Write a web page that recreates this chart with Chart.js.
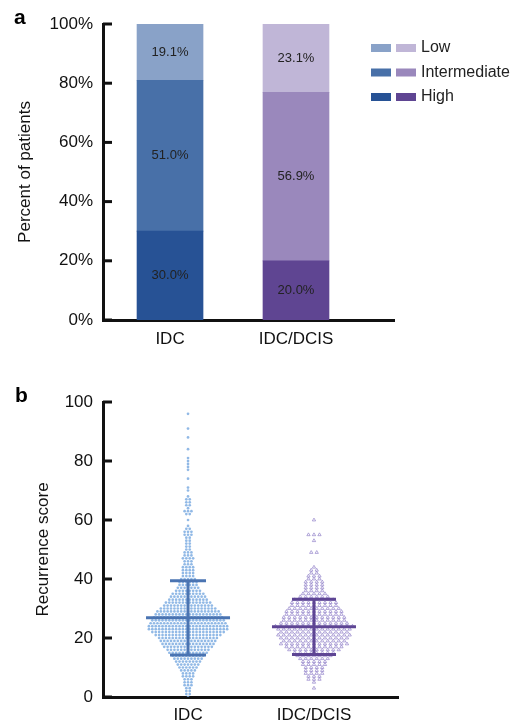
<!DOCTYPE html>
<html>
<head>
<meta charset="utf-8">
<script src="https://cdn.jsdelivr.net/npm/chart.js@4.4.1/dist/chart.umd.min.js"></script>
<style>
  body { margin: 0; background: #fff; width: 516px; height: 724px; overflow: hidden; position: relative; }
  canvas { position: absolute; left: 0; }
  #chartA { top: 0; }
  #chartB { top: 370px; }
</style>
</head>
<body>
<canvas id="chartA" width="516" height="360"></canvas>
<canvas id="chartB" width="516" height="354"></canvas>
<script>
// ---- Data ----
const categories = ["IDC", "IDC/DCIS"];
const riskLevels = ["Low", "Intermediate", "High"];

// panel a: percent of patients by risk group
const highPct = [30.0, 20.0];
const intermediatePct = [51.0, 56.9];
const lowPct = [19.1, 23.1];
const pctTicks = [0, 20, 40, 60, 80, 100];

// panel b: number of patients at each recurrence score
const idcStartScore = 0;
const idcCounts = [
  1, 2, 2, 2, 3, 3, 3, 4, 4, 5,         // 0-9
  6, 7, 8, 9, 10, 12, 13, 15, 16, 17,   // 10-19
  18, 20, 22, 24, 24, 23, 22, 21, 20, 19, // 20-29
  17, 15, 14, 12, 11, 10, 8, 7, 6, 6,   // 30-39
  5, 4, 4, 4, 4, 3, 3, 4, 3, 3,         // 40-49
  2, 2, 2, 2, 2, 3, 3, 2, 1, 0,         // 50-59
  1, 0, 2, 3, 1, 2, 2, 2, 1, 0,         // 60-69
  1, 1, 0, 0, 1, 0, 0, 1, 1, 1,         // 70-79
  1, 1, 0, 0, 1, 0, 0, 0, 1, 0,         // 80-89
  0, 1, 0, 0, 0, 0, 1                   // 90-96
];
const dcisStartScore = 3;
const dcisCounts = [
  1, 0, 1, 3, 3, 4, 4, 4,               // 3-10
  5, 5, 6, 7, 8, 10, 11, 13, 12, 13,    // 11-20
  14, 13, 14, 15, 13, 12, 12, 11, 11, 10, // 21-30
  9, 9, 8, 6, 5, 4, 4, 4, 4, 3,         // 31-40
  3, 2, 2, 1, 0, 0, 0, 0, 2, 0,         // 41-50
  0, 0, 1, 0, 3, 0, 0, 0, 0, 1          // 51-60
];
const meanScore = [26.9, 23.8];
const sdLow = [14.2, 14.4];
const sdHigh = [39.4, 33.1];
const scoreTicks = [0, 20, 40, 60, 80, 100];

// ---- Styles ----
const idcColors = { Low: "#89a2c8", Intermediate: "#4870a8", High: "#275295" };
const dcisColors = { Low: "#c0b6d7", Intermediate: "#9a88bc", High: "#5f4592" };
const errColors = ["#4a74b2", "#5e4594"];
const ink = "#111";

Chart.defaults.font.family = '"Liberation Sans", Arial, Helvetica, sans-serif';
Chart.defaults.color = ink;

// inward tick marks on the y axis
const innerTicks = {
  id: "innerTicks",
  afterDraw(chart) {
    const { ctx, chartArea, scales: { y } } = chart;
    ctx.save();
    ctx.strokeStyle = ink;
    ctx.lineWidth = 3;
    y.ticks.forEach(t => {
      const py = y.getPixelForValue(t.value);
      ctx.beginPath();
      ctx.moveTo(chartArea.left, py);
      ctx.lineTo(chartArea.left + 9, py);
      ctx.stroke();
    });
    ctx.restore();
  }
};

function panelLetter(letter, x, y) {
  return {
    id: "letter" + letter,
    afterDraw(chart) {
      const ctx = chart.ctx;
      ctx.save();
      ctx.font = 'bold 21px "Liberation Sans", Arial, sans-serif';
      ctx.fillStyle = "#000";
      ctx.textBaseline = "alphabetic";
      ctx.fillText(letter, x, y);
      ctx.restore();
    }
  };
}

function onlyCategoryTicks(scale) {
  scale.ticks = scale.ticks.filter(t => Number.isInteger(t.value));
}

// ---- Panel a ----
const barLabels = {
  id: "barLabels",
  afterDatasetsDraw(chart) {
    const ctx = chart.ctx;
    ctx.save();
    ctx.font = '13px "Liberation Sans", Arial, sans-serif';
    ctx.fillStyle = "#222";
    ctx.textAlign = "center";
    ctx.textBaseline = "middle";
    chart.data.datasets.forEach((ds, di) => {
      chart.getDatasetMeta(di).data.forEach((el, i) => {
        ctx.fillText(ds.data[i].y.toFixed(1) + "%", el.x, (el.y + el.base) / 2);
      });
    });
    ctx.restore();
  }
};

const riskLegend = {
  id: "riskLegend",
  afterDraw(chart) {
    const ctx = chart.ctx;
    ctx.save();
    ctx.font = '16px "Liberation Sans", Arial, sans-serif';
    ctx.textBaseline = "middle";
    riskLevels.forEach((lvl, i) => {
      const cy = 48 + i * 24.5;
      ctx.fillStyle = idcColors[lvl];
      ctx.fillRect(371, cy - 4, 20, 8);
      ctx.fillStyle = dcisColors[lvl];
      ctx.fillRect(396, cy - 4, 20, 8);
      ctx.fillStyle = "#222";
      ctx.fillText(lvl, 421, cy);
    });
    ctx.restore();
  }
};

function barSet(label, values) {
  return {
    label: label,
    data: categories.map((c, i) => ({ x: i, y: values[i] })),
    backgroundColor: [idcColors[label], dcisColors[label]],
    barThickness: 66,
    borderWidth: 0
  };
}

new Chart(document.getElementById("chartA"), {
  type: "bar",
  data: {
    datasets: [
      barSet("High", highPct),
      barSet("Intermediate", intermediatePct),
      barSet("Low", lowPct)
    ]
  },
  options: {
    responsive: false,
    animation: false,
    layout: { padding: { top: 24, right: 122, left: 0, bottom: 0 } },
    plugins: { legend: { display: false }, tooltip: { enabled: false } },
    scales: {
      x: {
        type: "linear",
        offset: false,
        min: -0.532,
        max: 1.778,
        stacked: true,
        afterBuildTicks: onlyCategoryTicks,
        afterFit: s => { s.height = 40; },
        grid: { display: false, drawTicks: false },
        border: { display: true, width: 3, color: ink },
        ticks: { padding: 9, font: { size: 17 }, callback: v => categories[v] ?? "" }
      },
      y: {
        min: 0,
        max: 100,
        stacked: true,
        afterBuildTicks: s => { s.ticks = pctTicks.map(v => ({ value: v })); },
        afterFit: s => { s.width = 103; },
        grid: { display: false, drawTicks: false },
        border: { display: true, width: 3, color: ink },
        ticks: { padding: 10, font: { size: 17 }, callback: v => v + "%" },
        title: { display: true, text: "Percent of patients", font: { size: 17 }, padding: { top: 15, bottom: 0 } }
      }
    }
  },
  plugins: [barLabels, riskLegend, innerTicks, panelLetter("a", 14, 24)]
});

// ---- Panel b ----
const errorBars = {
  id: "errorBars",
  afterDatasetsDraw(chart) {
    const { ctx, scales: { x, y } } = chart;
    const capHalf = [18, 22];
    ctx.save();
    ctx.lineWidth = 3;
    categories.forEach((c, i) => {
      const cx = x.getPixelForValue(i);
      const yMean = y.getPixelForValue(meanScore[i]);
      const yLo = y.getPixelForValue(sdLow[i]);
      const yHi = y.getPixelForValue(sdHigh[i]);
      ctx.strokeStyle = errColors[i];
      ctx.beginPath();
      ctx.moveTo(cx, yLo); ctx.lineTo(cx, yHi);
      ctx.moveTo(cx - 42, yMean); ctx.lineTo(cx + 42, yMean);
      ctx.moveTo(cx - capHalf[i], yLo); ctx.lineTo(cx + capHalf[i], yLo);
      ctx.moveTo(cx - capHalf[i], yHi); ctx.lineTo(cx + capHalf[i], yHi);
      ctx.stroke();
    });
    ctx.restore();
  }
};

const chartB = new Chart(document.getElementById("chartB"), {
  type: "scatter",
  data: {
    datasets: [
      { label: "IDC", data: [], pointRadius: 1.35, backgroundColor: "rgba(118,168,224,0.8)", borderWidth: 0 },
      { label: "IDC/DCIS", data: [], pointStyle: "triangle", pointRadius: 1.9,
        backgroundColor: "rgba(255,255,255,0)", borderColor: "rgba(136,118,196,0.9)", borderWidth: 0.7 }
    ]
  },
  options: {
    responsive: false,
    animation: false,
    layout: { padding: { top: 32, right: 118, left: 0, bottom: 0 } },
    plugins: { legend: { display: false }, tooltip: { enabled: false } },
    scales: {
      x: {
        type: "linear",
        min: -0.675,
        max: 1.667,
        afterBuildTicks: onlyCategoryTicks,
        afterFit: s => { s.height = 27; },
        grid: { display: false, drawTicks: false },
        border: { display: true, width: 3, color: ink },
        ticks: { padding: 8, font: { size: 17 }, callback: v => categories[v] ?? "" }
      },
      y: {
        min: 0,
        max: 100,
        afterBuildTicks: s => { s.ticks = scoreTicks.map(v => ({ value: v })); },
        afterFit: s => { s.width = 103; },
        grid: { display: false, drawTicks: false },
        border: { display: true, width: 3, color: ink },
        ticks: { padding: 10, font: { size: 17 } },
        title: { display: true, text: "Recurrence score", font: { size: 17 }, padding: { top: 33, bottom: 0 } }
      }
    }
  },
  plugins: [errorBars, innerTicks, panelLetter("b", 15, 32)]
});

// spread equal scores side by side, spacing given in pixels
function swarm(counts, startScore, catIndex, stepPx) {
  const unitPx = chartB.scales.x.getPixelForValue(1) - chartB.scales.x.getPixelForValue(0);
  const step = stepPx / unitPx;
  const pts = [];
  counts.forEach((n, k) => {
    for (let j = 0; j < n; j++) {
      pts.push({ x: catIndex + (j - (n - 1) / 2) * step, y: startScore + k });
    }
  });
  return pts;
}

chartB.data.datasets[0].data = swarm(idcCounts, idcStartScore, 0, 3.4);
chartB.data.datasets[1].data = swarm(dcisCounts, dcisStartScore, 1, 5.5);
chartB.update();
</script>
</body>
</html>
